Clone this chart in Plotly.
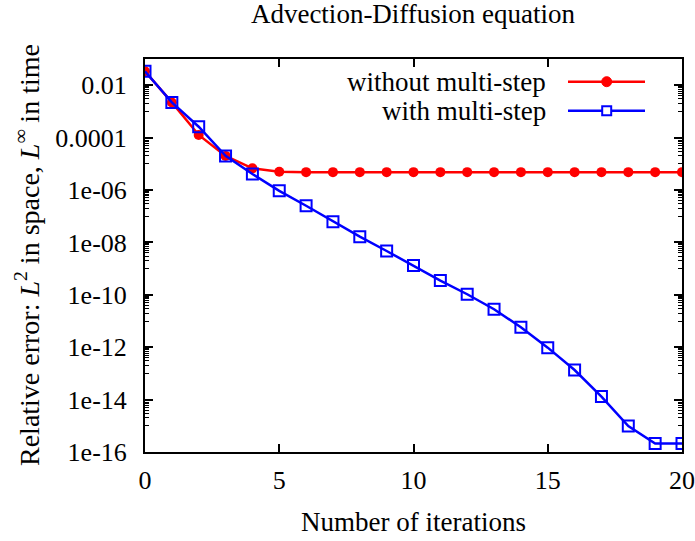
import plotly.graph_objects as go

# ---- data ----
iterations = list(range(21))
without_multistep = [3.4e-2, 2.2e-3, 1.26e-4, 2.0e-5, 6.7e-6, 5.0e-6, 4.8e-6, 4.8e-6, 4.8e-6,
                     4.8e-6, 4.8e-6, 4.8e-6, 4.8e-6, 4.8e-6, 4.8e-6, 4.8e-6, 4.8e-6, 4.8e-6,
                     4.8e-6, 4.8e-6, 4.8e-6]
with_multistep = [3.4e-2, 2.2e-3, 2.6e-4, 2.0e-5, 4.1e-6, 9.3e-7, 2.5e-7, 6.2e-8, 1.65e-8,
                  4.7e-9, 1.3e-9, 3.5e-10, 1.05e-10, 2.8e-11, 5.8e-12, 9.6e-13, 1.35e-13,
                  1.3e-14, 9.8e-16, 2.1e-16, 2.1e-16]
y_tickvals = [1e-16, 1e-14, 1e-12, 1e-10, 1e-8, 1e-6, 1e-4, 1e-2]
y_ticktext = ["1e-16", "1e-14", "1e-12", "1e-10", "1e-08", "1e-06", "0.0001", "0.01"]
x_tickvals = [0, 5, 10, 15, 20]
series_names = ["without multi-step", "with multi-step"]

RED = "#ff0000"
BLUE = "#0000ff"
FONT = "Liberation Serif"

# gnuplot-style minor ticks: 1..9 x the odd decades
minor_vals = []
for e in range(-15, 0, 2):
    for k in range(1, 10):
        minor_vals.append(k * 10.0 ** e)

fig = go.Figure()
fig.add_trace(go.Scatter(
    x=iterations, y=without_multistep, mode="lines+markers", name=series_names[0],
    line=dict(color=RED, width=2.5),
    marker=dict(symbol="circle", size=10, color=RED),
    showlegend=False))
fig.add_trace(go.Scatter(
    x=iterations, y=with_multistep, mode="lines+markers", name=series_names[1],
    line=dict(color=BLUE, width=2.5),
    marker=dict(symbol="square-open", size=11, color=BLUE, line=dict(width=2, color=BLUE)),
    showlegend=False))

L, R, T, B = 145, 682, 59, 452
W, H = 695, 541
def px(x):
    return (x - L) / (R - L)
def py(y):
    return (B - y) / (B - T)

shapes = []
annotations = []
rows = [(81.7, RED, "circle"), (110.7, BLUE, "square")]
for (yy, col, sym), name in zip(rows, series_names):
    shapes.append(dict(type="line", xref="paper", yref="paper",
                       x0=px(568), x1=px(645), y0=py(yy), y1=py(yy),
                       line=dict(color=col, width=2.5)))
    if sym == "circle":
        shapes.append(dict(type="circle", xref="paper", yref="paper",
                           xsizemode="pixel", ysizemode="pixel",
                           xanchor=px(606.7), yanchor=py(yy),
                           x0=-5, x1=5, y0=-5, y1=5,
                           fillcolor=col, line=dict(color=col, width=1)))
    else:
        shapes.append(dict(type="rect", xref="paper", yref="paper",
                           xsizemode="pixel", ysizemode="pixel",
                           xanchor=px(606.7), yanchor=py(yy),
                           x0=-4.5, x1=4.5, y0=-4.5, y1=4.5,
                           fillcolor="white", line=dict(color=col, width=2)))
    annotations.append(dict(text=name, xref="paper", yref="paper",
                            x=px(548), y=py(yy), xanchor="right", yanchor="middle",
                            showarrow=False, font=dict(family=FONT, size=27, color="black")))

annotations.append(dict(text="Number of iterations", xref="paper", yref="paper",
                        x=0.5, y=py(522), xanchor="center", yanchor="middle",
                        showarrow=False, font=dict(family=FONT, size=27, color="black")))
annotations.append(dict(text="Relative error: <i>L</i><sup>2</sup> in space, <i>L</i><sup>∞</sup> in time",
                        xref="paper", yref="paper", textangle=-90,
                        x=px(27), y=py(255), xanchor="center", yanchor="middle",
                        showarrow=False, font=dict(family=FONT, size=28, color="black")))

fig.update_layout(
    width=W, height=H,
    margin=dict(l=L, r=W - R, t=T, b=H - B, pad=0),
    paper_bgcolor="white", plot_bgcolor="white",
    title=dict(text="Advection-Diffusion equation", x=px(413), xref="paper",
               y=1 - 14 / H, yref="container", xanchor="center", yanchor="middle",
               font=dict(family=FONT, size=27, color="black")),
    font=dict(family=FONT, size=26, color="black"),
    shapes=shapes, annotations=annotations,
    xaxis=dict(range=[0, 20], tickvals=x_tickvals, ticks="inside", ticklen=8, tickwidth=1.5,
               tickcolor="black", showline=True, linecolor="black", linewidth=2,
               mirror="allticks", showgrid=False, zeroline=False, automargin=False,
               ticklabelstandoff=4, tickfont=dict(family=FONT, size=26)),
    yaxis=dict(type="log", range=[-16, -1], tickvals=y_tickvals, ticktext=y_ticktext,
               ticks="inside", ticklen=8, tickwidth=1.5, tickcolor="black",
               showline=True, linecolor="black", linewidth=2, mirror="allticks",
               showgrid=False, zeroline=False, automargin=False, ticklabelstandoff=11,
               tickfont=dict(family=FONT, size=26),
               minor=dict(tickvals=minor_vals, ticks="inside", ticklen=4, tickwidth=1,
                          tickcolor="black", showgrid=False)),
)

fig.write_html("out.html", config={"displayModeBar": False},
               post_script="document.body.style.margin='0';document.body.style.padding='0';")
